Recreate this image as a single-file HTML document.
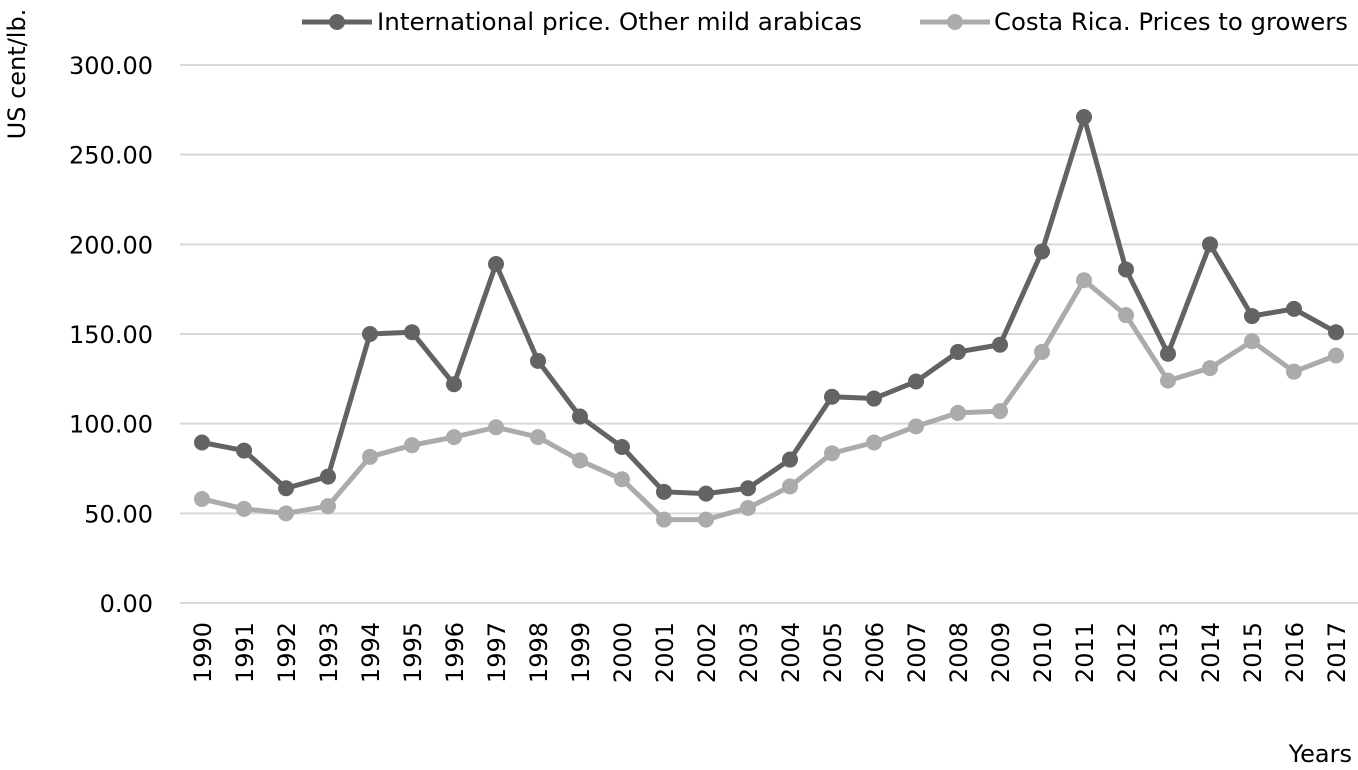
<!DOCTYPE html>
<html><head><meta charset="utf-8"><style>
body{margin:0;background:#fff}
svg text{font-family:"DejaVu Sans",sans-serif;fill:#000}
</style></head><body>
<svg width="1358" height="765" viewBox="0 0 1358 765">
<g id="grid"></g><g id="yt"></g><g id="xt"></g><g id="series"></g>
<text transform="translate(25,74) rotate(-90)" text-anchor="middle" font-size="24">US cent/lb.</text>
<text x="1352" y="762" text-anchor="end" font-size="24">Years</text>
<g>
<g>
<line x1="302" y1="22" x2="372" y2="22" stroke="#636363" stroke-width="5"/><circle cx="337" cy="22" r="8" fill="#636363"/>
<text x="377" y="30" font-size="24" textLength="485" lengthAdjust="spacingAndGlyphs">International price. Other mild arabicas</text></g>
<g>
<line x1="920" y1="22" x2="990" y2="22" stroke="#ababab" stroke-width="5"/><circle cx="955" cy="22" r="8" fill="#ababab"/>
<text x="994" y="30" font-size="24" textLength="354" lengthAdjust="spacingAndGlyphs">Costa Rica. Prices to growers</text></g>
</g>
</svg>
<script>
const years=[1990,1991,1992,1993,1994,1995,1996,1997,1998,1999,2000,2001,2002,2003,2004,2005,2006,2007,2008,2009,2010,2011,2012,2013,2014,2015,2016,2017];
const intlPrice=[89.5,85,64,70.5,150,151,122,189,135,104,87,62,61,64,80,115,114,123.5,140,144,196,271,186,139,200,160,164,151];
const costaRicaPrice=[58,52.5,50,54,81.5,88,92.5,98,92.5,79.5,69,46.5,46.5,53,65,83.5,89.5,98.5,106,107,140,180,160.5,124,131,146,129,138];
const yTicks=[0,50,100,150,200,250,300];
const NS="http://www.w3.org/2000/svg";
const y=v=>603-v*(603-65)/300;
const x=i=>202+i*(1336-202)/(years.length-1);
function mk(t,a,p){const e=document.createElementNS(NS,t);for(const k in a)e.setAttribute(k,a[k]);document.getElementById(p).appendChild(e);return e;}
yTicks.forEach(v=>{
 const l=mk('line',{x1:180,x2:1358,y1:y(v),y2:y(v),stroke:'#d9d9d9','stroke-width':2},'grid');
 
 
 const t=mk('text',{x:153,y:y(v)+9,'text-anchor':'end','font-size':24},'yt');
 t.textContent=v.toFixed(2);
 
 
});
years.forEach((yr,i)=>{
 const t=mk('text',{transform:`translate(${x(i)+9},622) rotate(-90)`,'text-anchor':'end','font-size':24},'xt');
 t.textContent=yr;
 
 
});
function series(vals,color,name){
 const p=mk('polyline',{points:vals.map((v,i)=>x(i)+','+y(v)).join(' '),fill:'none',stroke:color,'stroke-width':5,'stroke-linejoin':'round'},'series');
 
 
 vals.forEach((v,i)=>{
  const c=mk('circle',{cx:x(i),cy:y(v),r:8,fill:color},'series');
  
  
 });
}
series(costaRicaPrice,'#ababab','costa-rica');
series(intlPrice,'#636363','international');
</script>
</body></html>
